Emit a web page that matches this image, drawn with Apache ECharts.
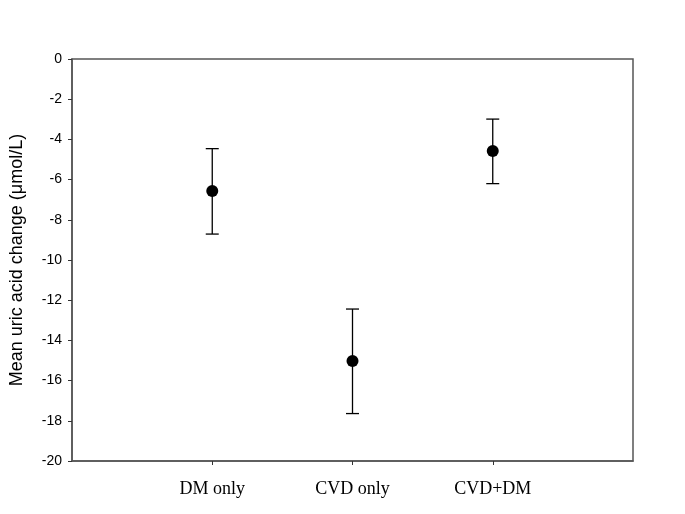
<!DOCTYPE html>
<html>
<head>
<meta charset="utf-8">
<script src="https://cdn.jsdelivr.net/npm/echarts@6/dist/echarts.min.js"></script>
<style>html,body{margin:0;padding:0;background:#fff;}#c{width:685px;height:514px;}</style>
</head>
<body>
<div id="c"></div>
<script>
var categories = ['DM only', 'CVD only', 'CVD+DM'];
var positions = [1, 2, 3];
var means = [-6.57, -15.02, -4.58];
var upper = [-4.46, -12.44, -2.99];
var lower = [-8.71, -17.64, -6.20];
var yTicks = [0, -2, -4, -6, -8, -10, -12, -14, -16, -18, -20];

var chart = echarts.init(document.getElementById('c'));
var pointData = positions.map(function (p, i) { return [p, means[i]]; });
var errData = positions.map(function (p, i) { return [p, lower[i], upper[i]]; });

chart.setOption({
  animation: false,
  backgroundColor: '#fff',
  grid: { left: 72, right: 52, top: 59, bottom: 53, show: true, borderColor: '#555', borderWidth: 1.5, backgroundColor: 'transparent' },
  xAxis: {
    type: 'value', min: 0, max: 4, interval: 1,
    splitLine: { show: false },
    axisLine: { show: true, onZero: false, lineStyle: { color: '#555', width: 1.5 } },
    axisTick: { show: true, inside: false, length: 4, customValues: positions, lineStyle: { color: '#333', width: 1 } },
    axisLabel: {
      customValues: positions,
      margin: 19,
      fontFamily: 'Liberation Serif, Times New Roman, serif', fontSize: 18, color: '#000',
      formatter: function (v) { var i = positions.indexOf(v); return i >= 0 ? categories[i] : ''; }
    }
  },
  yAxis: {
    type: 'value', min: -20, max: 0, interval: 2,
    splitLine: { show: false },
    axisLine: { show: true, onZero: false, lineStyle: { color: '#555', width: 1.5 } },
    axisTick: { show: true, inside: false, length: 4, lineStyle: { color: '#333', width: 1 } },
    axisLabel: {
      margin: 10, fontFamily: 'Liberation Sans, Arial, sans-serif', fontSize: 14, color: '#000',
      customValues: yTicks
    },
    name: 'Mean uric acid change (μmol/L)',
    nameLocation: 'middle', nameGap: 46,
    nameTextStyle: { fontFamily: 'Liberation Sans, Arial, sans-serif', fontSize: 18, color: '#000' }
  },
  series: [
    {
      type: 'custom',
      data: errData,
      renderItem: function (params, api) {
        var x = api.value(0);
        var lo = api.coord([x, api.value(1)]);
        var hi = api.coord([x, api.value(2)]);
        var hw = 6.5;
        var style = { stroke: '#000', lineWidth: 1.3 };
        return {
          type: 'group',
          children: [
            { type: 'line', shape: { x1: lo[0], y1: lo[1], x2: hi[0], y2: hi[1] }, style: style },
            { type: 'line', shape: { x1: lo[0] - hw, y1: lo[1], x2: lo[0] + hw, y2: lo[1] }, style: style },
            { type: 'line', shape: { x1: hi[0] - hw, y1: hi[1], x2: hi[0] + hw, y2: hi[1] }, style: style }
          ]
        };
      },
      z: 2
    },
    {
      type: 'scatter',
      data: pointData,
      symbol: 'circle',
      symbolSize: 12,
      itemStyle: { color: '#000', opacity: 1 },
      z: 3
    }
  ]
});
</script>
</body>
</html>
